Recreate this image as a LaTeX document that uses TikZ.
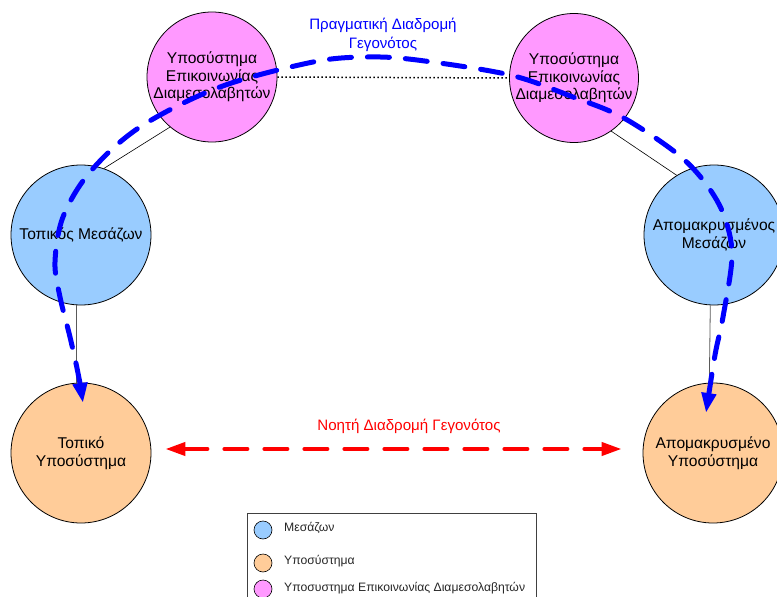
\documentclass[tikz,border=0pt]{standalone}
\usepackage{fontspec}
\setmainfont{Liberation Sans}
\usetikzlibrary{arrows.meta,calc}
\definecolor{brokerblue}{HTML}{99CCFF}
\definecolor{subsysorange}{HTML}{FFCC99}
\definecolor{commpink}{HTML}{FF99FF}
\definecolor{realblue}{HTML}{0000FF}
\definecolor{notionred}{HTML}{FF0000}
\definecolor{legendgray}{HTML}{404040}
\begin{document}
\begin{tikzpicture}[x=1pt,y=-1pt,
  unit/.style={circle,draw=black,line width=0.8pt,inner sep=0pt},
  caption/.style={font=\fontsize{15.6}{17.6}\selectfont,align=center,inner sep=0pt},
  link/.style={draw=black,line width=0.6pt},
  vlink/.style={draw=black!65,line width=0.8pt},
  realpath/.style={draw=realblue,line width=5pt,line cap=round,
    dash pattern=on 22pt off 16pt,
    {Triangle[length=20pt,width=14pt]}-{Triangle[length=20pt,width=14pt]}},
  notionpath/.style={draw=notionred,line width=4pt,line cap=round,
    dash pattern=on 23pt off 17pt,
    {Triangle[length=20pt,width=13pt]}-{Triangle[length=20pt,width=13pt]}},
  pathlabel/.style={font=\fontsize{15.1}{19}\selectfont,align=center,inner sep=0pt},
  keydot/.style={circle,draw=black,line width=0.6pt,minimum size=18pt,inner sep=0pt},
  keytext/.style={font=\fontsize{12.2}{14}\selectfont,anchor=west,inner sep=0pt,text=black!85}
]
\useasboundingbox (0,0) rectangle (777,597);
\clip (0,0) rectangle (777,597);

% communication subsystems of the mediators
\node[unit,fill=commpink,minimum size=130pt] (pl) at (212,77) {};
\node[unit,fill=commpink,minimum size=129pt] (pr) at (574,78) {};
% brokers
\node[unit,fill=brokerblue,minimum size=140pt] (bl) at (81,235) {};
\node[unit,fill=brokerblue,minimum size=140pt] (br) at (714,235) {};
% subsystems
\node[unit,fill=subsysorange,minimum size=140pt] (ol) at (81,453) {};
\node[unit,fill=subsysorange,minimum size=140pt] (or) at (713,453) {};

% plain connections
\draw[link] (pl.230) -- (bl.71);
\draw[link] (pr.305) -- (br.122);
\draw[vlink] (bl.266) -- (ol.94);
\draw[vlink] (br.267) -- (or.93);
\draw[draw=black,line width=1.5pt,dash pattern=on 1.5pt off 2.5pt] (pl.east) -- (pr.west);

% texts inside the circles
\node[caption] (tpl) at (pl) {Υποσύστημα\\Επικοινωνίας\\Διαμεσολαβητών};
\node[caption] (tpr) at (pr) {Υποσύστημα\\Επικοινωνίας\\Διαμεσολαβητών};
\node[caption] (tbl) at (bl) {Τοπικός Μεσάζων};
\node[caption] (tbr) at (br) {Απομακρυσμένος\\Μεσάζων};
\node[caption] (tol) at (ol) {Τοπικό\\Υποσύστημα};
\node[caption] (tor) at (or) {Απομακρυσμένο\\Υποσύστημα};

% actual route of an event
\coordinate (rs) at (83,403);
\coordinate (re) at (706,413);
\draw[realpath] plot[smooth,tension=0.55] coordinates {
  (rs) (78,373) (70,337) (60,297) (55,262) (63,217) (90,172) (140,127)
  (220,87) (313,62) (367,57) (417,60) (510,75) (573,97) (622,117)
  (675,152) (703,180) (723,213) (732,255) (723,317) (715,355) (re)};
\node[pathlabel,text=realblue] (rlab) at (383,34.5) {Πραγματική Διαδρομή\\Γεγονότος};

% notional route of an event
\draw[notionpath,shorten <=14pt,shorten >=21pt] ([yshift=4pt]ol.east) -- ([yshift=4pt]or.west);
\node[pathlabel,text=notionred] (nlab) at (409,426) {Νοητή Διαδρομή Γεγονότος};

% legend
\node[draw=legendgray,line width=0.8pt,minimum width=289pt,minimum height=110pt,inner sep=0pt,anchor=north west] (key) at (247,513) {};
\node[keydot,fill=brokerblue] (k1) at (263,530) {};
\node[keydot,fill=subsysorange] (k2) at (263,563) {};
\node[keydot,fill=commpink] (k3) at (263,589) {};
\node[keytext] (t1) at (284,528) {Μεσάζων};
\node[keytext] (t2) at (284,561) {Υποσύστημα};
\node[keytext] (t3) at (284,588) {Υποσυστημα Επικοινωνίας Διαμεσολαβητών};
\end{tikzpicture}
\end{document}
